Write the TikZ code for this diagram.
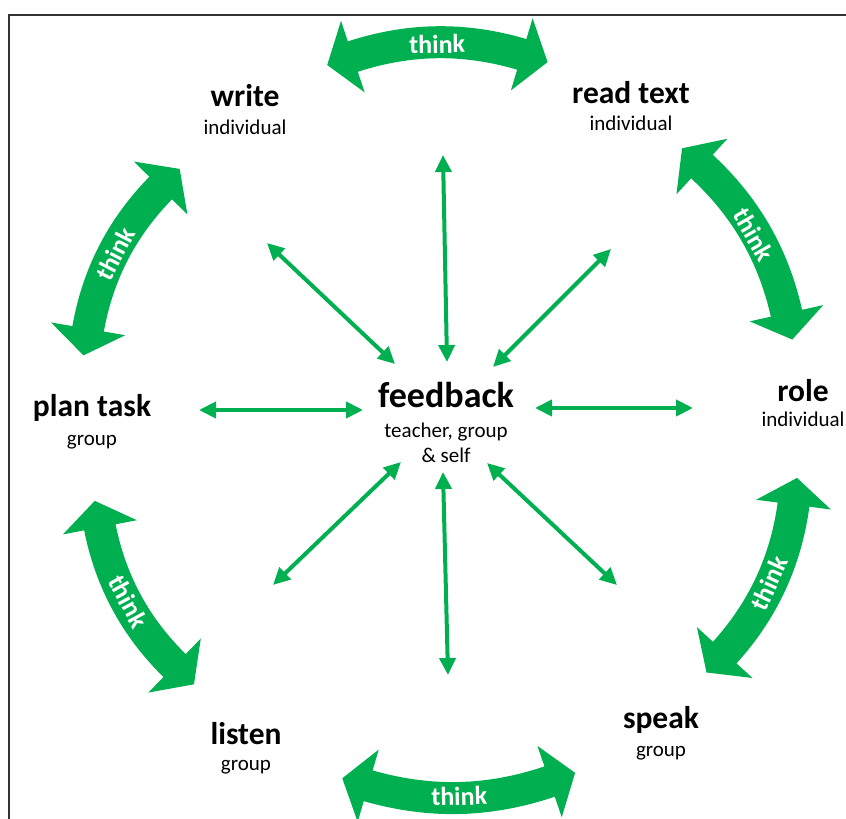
\documentclass[tikz,border=0pt]{standalone}
\usepackage{fontspec}
\setmainfont{Carlito}
\usepackage{xcolor}
\usepackage{tikz}
\usetikzlibrary{positioning, arrows.meta, calc}
\definecolor{thinkgreen}{RGB}{0,176,80}

\begin{document}
\begin{tikzpicture}[x=1pt, y=1pt,
    title/.style={inner sep=0pt, anchor=base, font=\fontsize{31.5}{36}\bfseries\selectfont},
    sub/.style={inner sep=0pt, anchor=base, font=\fontsize{21}{25}\selectfont},
    spoke/.style={draw=thinkgreen, line width=4pt, {Triangle[length=17pt,width=16pt]}-{Triangle[length=17pt,width=16pt]}},
    thinkarrow/.style={draw=thinkgreen, line width=32pt, {Triangle[length=27pt,width=74pt]}-{Triangle[length=27pt,width=74pt]}},
    thinklabel/.style={midway, sloped, text=white, inner sep=0pt, font=\fontsize{26}{30}\bfseries\selectfont}]
    \useasboundingbox (0,0) rectangle (846,819);

    % Cornice
    \draw[line width=2pt, draw=black!80] (9,-20) |- (880,804);

    % Nodi
    \coordinate (hub) at (447,406);
    \node[title, font=\fontsize{36}{40}\bfseries\selectfont] (feedback) at (446,411) {feedback};
    \node[sub, align=center] (feedbackS) at ([yshift=-55pt]feedback.base) {teacher, group\\ \& self};

    \node[title] (write) at (245,712) {write};
    \node[sub] (writeS) at ([yshift=-28pt]write.base) {individual};
    \node[title] (read) at (631,715) {read text};
    \node[sub] (readS) at ([yshift=-27pt]read.base) {individual};
    \node[title] (role) at (803,417) {role};
    \node[sub] (roleS) at ([yshift=-25pt]role.base) {individual};
    \node[title] (speak) at (661,90) {speak};
    \node[sub] (speakS) at ([yshift=-28pt]speak.base) {group};
    \node[title] (listen) at (246,74) {listen};
    \node[sub] (listenS) at ([yshift=-26pt]listen.base) {group};
    \node[title] (plan) at (92,402) {plan task};
    \node[sub] (planS) at ([yshift=-29pt]plan.base) {group};

    % Estremi delle frecce sottili
    \coordinate (fbN) at (447,457);  \coordinate (wrN) at (443,664);
    \coordinate (fbNW) at (395,455); \coordinate (wrNW) at (267,576);
    \coordinate (fbNE) at (493,452); \coordinate (wrNE) at (611,570);
    \coordinate (fbW) at (363,409);  \coordinate (wrW) at (199,409);
    \coordinate (fbE) at (535,411);  \coordinate (wrE) at (693,411);
    \coordinate (fbSW) at (401,357); \coordinate (wrSW) at (273,234);
    \coordinate (fbS) at (443,347);  \coordinate (wrS) at (448,144);
    \coordinate (fbSE) at (487,356); \coordinate (wrSE) at (617,234);

    % Frecce sottili
    \draw[spoke] (fbN) -- (wrN);
    \draw[spoke] (fbNW) -- (wrNW);
    \draw[spoke] (fbNE) -- (wrNE);
    \draw[spoke] (fbW) -- (wrW);
    \draw[spoke] (fbE) -- (wrE);
    \draw[spoke] (fbSW) -- (wrSW);
    \draw[spoke] (fbS) -- (wrS);
    \draw[spoke] (fbSE) -- (wrSE);

    % Estremi delle frecce curve
    \coordinate (th1a) at ($(hub)+(109:368)$);   \coordinate (th1b) at ($(hub)+(74:365)$);
    \coordinate (th2a) at ($(hub)+(48.4:354)$);  \coordinate (th2b) at ($(hub)+(12:353)$);
    \coordinate (th3a) at ($(hub)+(349.5:356)$); \coordinate (th3b) at ($(hub)+(315:367)$);
    \coordinate (th4a) at ($(hub)+(289.6:382)$); \coordinate (th4b) at ($(hub)+(254:380)$);
    \coordinate (th5a) at ($(hub)+(227:371)$);   \coordinate (th5b) at ($(hub)+(194:363)$);
    \coordinate (th6a) at ($(hub)+(171:368)$);   \coordinate (th6b) at ($(hub)+(137.6:362)$);

    % Frecce curve
    \draw[thinkarrow] (th1a) to[bend left=17.5] node[thinklabel] {think} (th1b);
    \draw[thinkarrow] (th2a) to[bend left=17.5] node[thinklabel] {think} (th2b);
    \draw[thinkarrow] (th3a) to[bend left=17.5] node[thinklabel] {think} (th3b);
    \draw[thinkarrow] (th4a) to[bend left=17.5] node[thinklabel] {think} (th4b);
    \draw[thinkarrow] (th5a) to[bend left=17.5] node[thinklabel] {think} (th5b);
    \draw[thinkarrow] (th6a) to[bend left=17.5] node[thinklabel] {think} (th6b);
\end{tikzpicture}
\end{document}
